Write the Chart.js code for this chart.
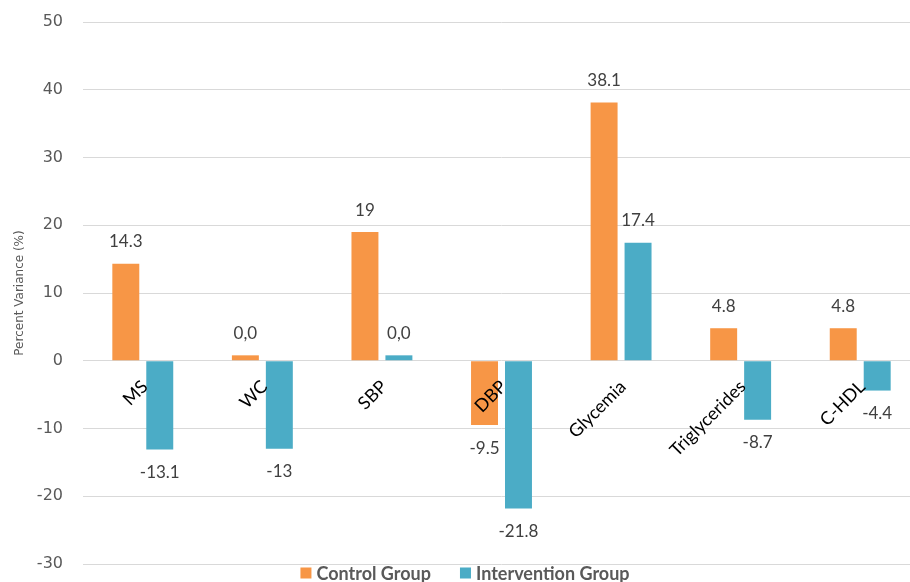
<!DOCTYPE html>
<html>
<head>
<meta charset="utf-8">
<script src="https://cdn.jsdelivr.net/npm/chart.js@4.4.1/dist/chart.umd.min.js"></script>
<style>
  html, body { margin: 0; padding: 0; background: #fff; overflow: hidden; }
  #wrap { width: 910px; height: 582px; overflow: hidden; position: relative; }
  #wrap canvas { position: absolute; left: 0; top: 0; }
</style>
</head>
<body>
<div id="wrap"><canvas id="varianceChart" width="920" height="582"></canvas></div>
<script>
const categories = ['MS', 'WC', 'SBP', 'DBP', 'Glycemia', 'Triglycerides', 'C-HDL'];
const controlValues = [14.3, 0.8, 19, -9.5, 38.1, 4.8, 4.8];
const interventionValues = [-13.1, -13, 0.8, -21.8, 17.4, -8.7, -4.4];
const controlLabels = ['14.3', '0,0', '19', '-9.5', '38.1', '4.8', '4.8'];
const interventionLabels = ['-13.1', '-13', '0,0', '-21.8', '17.4', '-8.7', '-4.4'];
const yMin = -30, yMax = 50, yStep = 10;

const ORANGE = '#F79646';
const TEAL = '#4BACC6';
const TEXT_GRAY = '#595959';

// draws value labels, the rotated category labels near zero, and the legend
const annotate = {
    id: 'annotate',
    afterDatasetsDraw(chart) {
        const ctx = chart.ctx;
        const xs = chart.scales.x;
        const ys = chart.scales.y;
        const zeroY = ys.getPixelForValue(0);
        const valueText = [controlLabels, interventionLabels];

        ctx.save();
        ctx.font = '17px Lato';
        ctx.fillStyle = '#404040';
        ctx.textAlign = 'center';
        ctx.textBaseline = 'middle';
        chart.data.datasets.forEach((ds, di) => {
            chart.getDatasetMeta(di).data.forEach((bar, i) => {
                const v = ds.data[i];
                const y = v >= 0 ? bar.y - 22 : bar.y + 23;
                ctx.fillText(valueText[di][i], bar.x, y);
            });
        });

        ctx.font = '18px Lato';
        ctx.fillStyle = '#000';
        ctx.textAlign = 'right';
        categories.forEach((c, i) => {
            const x = xs.getPixelForValue(i);
            ctx.save();
            ctx.translate(x + 2, zeroY + 23);
            ctx.rotate(-Math.PI / 4);
            ctx.fillText(c, 0, 0);
            ctx.restore();
        });

        // legend
        ctx.font = 'bold 18px Lato';
        ctx.textAlign = 'left';
        ctx.textBaseline = 'middle';
        const box = 11, gap = 5, spacing = 29;
        const items = chart.data.datasets.map(ds => ({
            text: ds.label, color: ds.backgroundColor,
            w: box + gap + ctx.measureText(ds.label).width
        }));
        const total = items.reduce((s, it) => s + it.w, 0) + spacing * (items.length - 1);
        let lx = 465 - total / 2;
        const ly = 573;
        items.forEach(it => {
            ctx.fillStyle = it.color;
            ctx.fillRect(lx, ly - box / 2, box, box);
            ctx.fillStyle = TEXT_GRAY;
            ctx.fillText(it.text, lx + box + gap, ly + 1);
            lx += it.w + spacing;
        });
        ctx.restore();
    }
};

const ctx = document.getElementById('varianceChart').getContext('2d');
new Chart(ctx, {
    type: 'bar',
    data: {
        labels: categories,
        datasets: [
            {
                label: 'Control Group',
                data: controlValues,
                backgroundColor: ORANGE,
                categoryPercentage: 0.568,
                barPercentage: 0.794
            },
            {
                label: 'Intervention Group',
                data: interventionValues,
                backgroundColor: TEAL,
                categoryPercentage: 0.568,
                barPercentage: 0.794
            }
        ]
    },
    options: {
        responsive: false,
        animation: false,
        layout: { padding: { top: 22, bottom: 18, left: 0, right: 0 } },
        scales: {
            x: {
                display: false
            },
            y: {
                min: yMin,
                max: yMax,
                ticks: {
                    stepSize: yStep,
                    padding: 20,
                    color: TEXT_GRAY,
                    font: { family: 'DejaVu Sans', size: 16 }
                },
                grid: { color: '#d9d9d9', lineWidth: 1, drawTicks: false },
                border: { display: false },
                title: {
                    display: true,
                    text: 'Percent Variance (%)',
                    color: TEXT_GRAY,
                    font: { family: 'DejaVu Sans', size: 12 },
                    padding: { top: 13, bottom: 0 }
                },
                afterFit: function (scale) {
                    scale.width = 83;
                    scale.paddingTop = 0;
                    scale.paddingBottom = 0;
                }
            }
        },
        plugins: {
            legend: { display: false },
            tooltip: { enabled: false }
        }
    },
    plugins: [annotate]
});
</script>
</body>
</html>
